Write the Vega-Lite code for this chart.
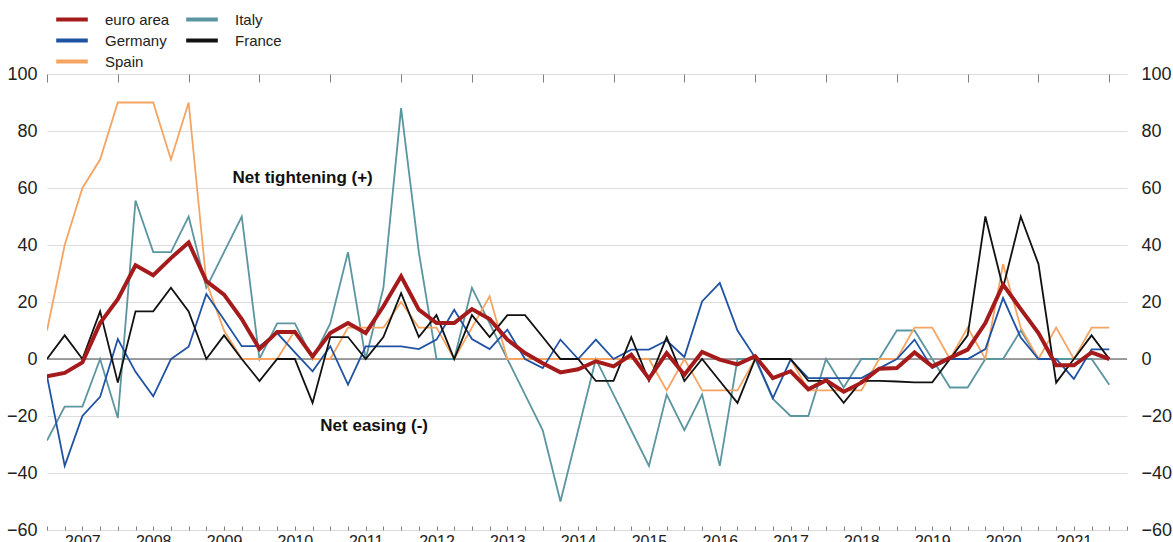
{
  "$schema": "https://vega.github.io/schema/vega-lite/v6.json",
  "width": 1080,
  "height": 456,
  "autosize": {"type": "none"},
  "padding": {"left": 47, "top": 74, "right": 46, "bottom": 12},
  "background": "white",
  "config": {"view": {"stroke": null}, "font": "Liberation Sans"},
  "datasets": {
    "series": [
      {"t": 2007.00, "euro area": -6.1, "Germany": -6, "Spain": 10, "Italy": -28.6, "France": 0},
      {"t": 2007.25, "euro area": -4.9, "Germany": -37.5, "Spain": 40, "Italy": -16.7, "France": 8.3},
      {"t": 2007.50, "euro area": -1.2, "Germany": -20, "Spain": 60, "Italy": -16.7, "France": 0},
      {"t": 2007.75, "euro area": 12.6, "Germany": -13.3, "Spain": 70, "Italy": 0, "France": 16.7},
      {"t": 2008.00, "euro area": 21, "Germany": 7, "Spain": 90, "Italy": -20.7, "France": -8.3},
      {"t": 2008.25, "euro area": 32.9, "Germany": -4.5, "Spain": 90, "Italy": 55.6, "France": 16.7},
      {"t": 2008.50, "euro area": 29.4, "Germany": -13.1, "Spain": 90, "Italy": 37.5, "France": 16.7},
      {"t": 2008.75, "euro area": 35.4, "Germany": 0, "Spain": 70, "Italy": 37.5, "France": 25},
      {"t": 2009.00, "euro area": 40.9, "Germany": 4.3, "Spain": 90, "Italy": 50, "France": 16.7},
      {"t": 2009.25, "euro area": 27.3, "Germany": 22.8, "Spain": 27, "Italy": 25, "France": 0},
      {"t": 2009.50, "euro area": 22.6, "Germany": 13.8, "Spain": 10, "Italy": 37.5, "France": 8.3},
      {"t": 2009.75, "euro area": 14, "Germany": 4.5, "Spain": 0, "Italy": 50, "France": 0},
      {"t": 2010.00, "euro area": 3.5, "Germany": 4.5, "Spain": 0, "Italy": 0, "France": -7.7},
      {"t": 2010.25, "euro area": 9.5, "Germany": 9.1, "Spain": 0, "Italy": 12.5, "France": 0},
      {"t": 2010.50, "euro area": 9.5, "Germany": 2.3, "Spain": 10, "Italy": 12.5, "France": 0},
      {"t": 2010.75, "euro area": 0.9, "Germany": -4.3, "Spain": 0, "Italy": 0, "France": -15.4},
      {"t": 2011.00, "euro area": 9.1, "Germany": 4.5, "Spain": 0, "Italy": 12.5, "France": 7.7},
      {"t": 2011.25, "euro area": 12.6, "Germany": -9, "Spain": 11, "Italy": 37.5, "France": 7.7},
      {"t": 2011.50, "euro area": 9.1, "Germany": 4.4, "Spain": 11, "Italy": 0, "France": 0},
      {"t": 2011.75, "euro area": 18.5, "Germany": 4.4, "Spain": 11, "Italy": 25, "France": 7.7},
      {"t": 2012.00, "euro area": 29, "Germany": 4.4, "Spain": 20, "Italy": 88, "France": 23.1},
      {"t": 2012.25, "euro area": 17.3, "Germany": 3.5, "Spain": 11, "Italy": 37.5, "France": 7.7},
      {"t": 2012.50, "euro area": 12.6, "Germany": 6.8, "Spain": 11, "Italy": 0, "France": 15.4},
      {"t": 2012.75, "euro area": 12.6, "Germany": 17.3, "Spain": 0, "Italy": 0, "France": 0},
      {"t": 2013.00, "euro area": 17.5, "Germany": 7, "Spain": 11, "Italy": 25, "France": 15.4},
      {"t": 2013.25, "euro area": 14, "Germany": 3.5, "Spain": 22, "Italy": 12.5, "France": 7.7},
      {"t": 2013.50, "euro area": 6.8, "Germany": 10.3, "Spain": 0, "Italy": 0, "France": 15.4},
      {"t": 2013.75, "euro area": 2.1, "Germany": 0, "Spain": 0, "Italy": -12.5, "France": 15.4},
      {"t": 2014.00, "euro area": -1.5, "Germany": -3.2, "Spain": 0, "Italy": -25, "France": 7.7},
      {"t": 2014.25, "euro area": -4.7, "Germany": 6.8, "Spain": 0, "Italy": -50, "France": 0},
      {"t": 2014.50, "euro area": -3.6, "Germany": 0, "Spain": 0, "Italy": -25, "France": 0},
      {"t": 2014.75, "euro area": -0.8, "Germany": 6.8, "Spain": 0, "Italy": 0, "France": -7.7},
      {"t": 2015.00, "euro area": -2.6, "Germany": 0, "Spain": 0, "Italy": -12.5, "France": -7.7},
      {"t": 2015.25, "euro area": 1.5, "Germany": 3.3, "Spain": 0, "Italy": -25, "France": 7.7},
      {"t": 2015.50, "euro area": -6.9, "Germany": 3.3, "Spain": 0, "Italy": -37.5, "France": -7.7},
      {"t": 2015.75, "euro area": 2.1, "Germany": 6.5, "Spain": -11, "Italy": -12.5, "France": 7.7},
      {"t": 2016.00, "euro area": -5.5, "Germany": 0.7, "Spain": 0, "Italy": -25, "France": -7.7},
      {"t": 2016.25, "euro area": 2.5, "Germany": 20.2, "Spain": -11, "Italy": -12.5, "France": 0},
      {"t": 2016.50, "euro area": -0.2, "Germany": 26.7, "Spain": -11, "Italy": -37.5, "France": -7.7},
      {"t": 2016.75, "euro area": -1.9, "Germany": 10, "Spain": -11, "Italy": 0, "France": -15.4},
      {"t": 2017.00, "euro area": 1, "Germany": 0.5, "Spain": 0, "Italy": 0, "France": 0},
      {"t": 2017.25, "euro area": -6.7, "Germany": -13.7, "Spain": 0, "Italy": -14, "France": 0},
      {"t": 2017.50, "euro area": -4.3, "Germany": -0.2, "Spain": 0, "Italy": -20, "France": 0},
      {"t": 2017.75, "euro area": -10.6, "Germany": -6.7, "Spain": -11, "Italy": -20, "France": -7.7},
      {"t": 2018.00, "euro area": -7.5, "Germany": -6.7, "Spain": -11, "Italy": 0, "France": -7.7},
      {"t": 2018.25, "euro area": -11.5, "Germany": -6.7, "Spain": -11, "Italy": -10, "France": -15.4},
      {"t": 2018.50, "euro area": -8.3, "Germany": -6.7, "Spain": -11, "Italy": 0, "France": -7.7},
      {"t": 2018.75, "euro area": -3.4, "Germany": -3.3, "Spain": 0, "Italy": 0, "France": -7.7},
      {"t": 2019.00, "euro area": -3.2, "Germany": 0, "Spain": 0, "Italy": 10, "France": -7.9},
      {"t": 2019.25, "euro area": 2.3, "Germany": 6.8, "Spain": 11, "Italy": 10, "France": -8.2},
      {"t": 2019.50, "euro area": -2.6, "Germany": -3.2, "Spain": 11, "Italy": 0, "France": -8.2},
      {"t": 2019.75, "euro area": 0.4, "Germany": 0, "Spain": 0, "Italy": -10, "France": 0},
      {"t": 2020.00, "euro area": 3.3, "Germany": 0, "Spain": 11, "Italy": -10, "France": 8.3},
      {"t": 2020.25, "euro area": 12.6, "Germany": 3.5, "Spain": 0, "Italy": 0, "France": 50},
      {"t": 2020.50, "euro area": 26.1, "Germany": 21.4, "Spain": 33.3, "Italy": 0, "France": 25},
      {"t": 2020.75, "euro area": 17.5, "Germany": 7.5, "Spain": 11, "Italy": 10, "France": 50},
      {"t": 2021.00, "euro area": 9.1, "Germany": 0, "Spain": 0, "Italy": 0, "France": 33.3},
      {"t": 2021.25, "euro area": -2.2, "Germany": 0, "Spain": 11, "Italy": 0, "France": -8.3},
      {"t": 2021.50, "euro area": -2.2, "Germany": -7, "Spain": 0, "Italy": 0, "France": 0},
      {"t": 2021.75, "euro area": 2.3, "Germany": 3.4, "Spain": 11, "Italy": 0, "France": 8.3},
      {"t": 2022.00, "euro area": 0, "Germany": 3.4, "Spain": 11, "Italy": -9, "France": 0}
    ],
    "zero": [{"v": 0}],
    "notes": [
      {"t": 2010.61, "v": 63.6, "label": "Net tightening (+)"},
      {"t": 2011.62, "v": -23.4, "label": "Net easing (-)"}
    ]
  },
  "resolve": {"axis": {"x": "independent", "y": "independent"}},
  "layer": [
    {
      "data": {"name": "zero"},
      "mark": {"type": "rule", "color": "#808080", "strokeWidth": 1.5},
      "encoding": {
        "y": {
          "field": "v", "type": "quantitative",
          "scale": {"domain": [-60, 100], "nice": false, "zero": false},
          "axis": {
            "orient": "right", "values": [-60, -40, -20, 0, 20, 40, 60, 80, 100],
            "title": null, "grid": false, "domain": false, "ticks": false,
            "labelFontSize": 18, "labelPadding": 14, "labelColor": "#222222",
            "labelFont": "Liberation Sans"
          }
        }
      }
    },
    {
      "data": {"name": "series"},
      "transform": [{"fold": ["Italy", "Spain", "Germany", "France", "euro area"], "as": ["s", "v"]}],
      "mark": {"type": "line", "strokeJoin": "miter", "clip": true},
      "encoding": {
        "x": {
          "field": "t", "type": "quantitative",
          "scale": {"domain": [2007, 2022.25], "nice": false, "zero": false},
          "axis": {
            "title": null, "grid": false, "domain": false, "offset": -4,
            "values": [2007, 2007.25, 2007.5, 2007.75, 2008, 2008.25, 2008.5, 2008.75, 2009, 2009.25, 2009.5, 2009.75, 2010, 2010.25, 2010.5, 2010.75, 2011, 2011.25, 2011.5, 2011.75, 2012, 2012.25, 2012.5, 2012.75, 2013, 2013.25, 2013.5, 2013.75, 2014, 2014.25, 2014.5, 2014.75, 2015, 2015.25, 2015.5, 2015.75, 2016, 2016.25, 2016.5, 2016.75, 2017, 2017.25, 2017.5, 2017.75, 2018, 2018.25, 2018.5, 2018.75, 2019, 2019.25, 2019.5, 2019.75, 2020, 2020.25, 2020.5, 2020.75, 2021, 2021.25, 2021.5, 2021.75, 2022, 2022.25],
            "tickColor": "#7f7f7f", "tickWidth": 1, "tickSize": 4,
            "labelExpr": "datum.value % 1 === 0 && datum.value < 2022 ? '' + datum.value : ''",
            "labelOffset": 35.4, "labelPadding": 3,
            "labelFontSize": 16, "labelColor": "#222222", "labelFont": "Liberation Sans",
            "labelOverlap": false, "labelFlush": false, "labelBound": false
          }
        },
        "y": {
          "field": "v", "type": "quantitative",
          "scale": {"domain": [-60, 100], "nice": false, "zero": false},
          "axis": {
            "orient": "left", "values": [-60, -40, -20, 0, 20, 40, 60, 80, 100],
            "title": null, "grid": true, "gridColor": "#dcdcdc", "gridWidth": 1,
            "domain": false, "ticks": false,
            "labelFontSize": 18, "labelPadding": 10, "labelColor": "#222222",
            "labelFont": "Liberation Sans"
          }
        },
        "color": {
          "field": "s", "type": "nominal",
          "scale": {
            "domain": ["euro area", "Germany", "Spain", "Italy", "France"],
            "range": ["#a51b1b", "#1f52a3", "#f6a462", "#5b95a0", "#111111"]
          },
          "legend": {
            "orient": "none", "legendX": 7, "legendY": -65, "columns": 2,
            "title": null, "padding": 0, "symbolType": "stroke", "symbolSize": 1000,
            "symbolStrokeWidth": 4, "labelFontSize": 15, "labelFont": "Liberation Sans",
            "labelColor": "#222222", "labelOffset": 15, "columnPadding": 14, "rowPadding": 0,
            "clipHeight": 21
          }
        },
        "strokeWidth": {"condition": {"test": "datum.s === 'euro area'", "value": 4}, "value": 1.8}
      }
    },
    {
      "data": {"name": "notes"},
      "mark": {"type": "text", "fontWeight": "bold", "fontSize": 17, "font": "Liberation Sans", "color": "#111111", "align": "center", "baseline": "middle"},
      "encoding": {
        "x": {
          "field": "t", "type": "quantitative",
          "scale": {"domain": [2007, 2022.25], "nice": false, "zero": false},
          "axis": {
            "title": null, "grid": false, "domain": false, "labels": false, "offset": -8,
            "values": [2007, 2008, 2009, 2010, 2011, 2012, 2013, 2014, 2015, 2016, 2017, 2018, 2019, 2020, 2021, 2022],
            "tickColor": "#7f7f7f", "tickWidth": 1, "tickSize": 8
          }
        },
        "y": {"field": "v", "type": "quantitative", "axis": null},
        "text": {"field": "label", "type": "nominal"}
      }
    }
  ]
}
